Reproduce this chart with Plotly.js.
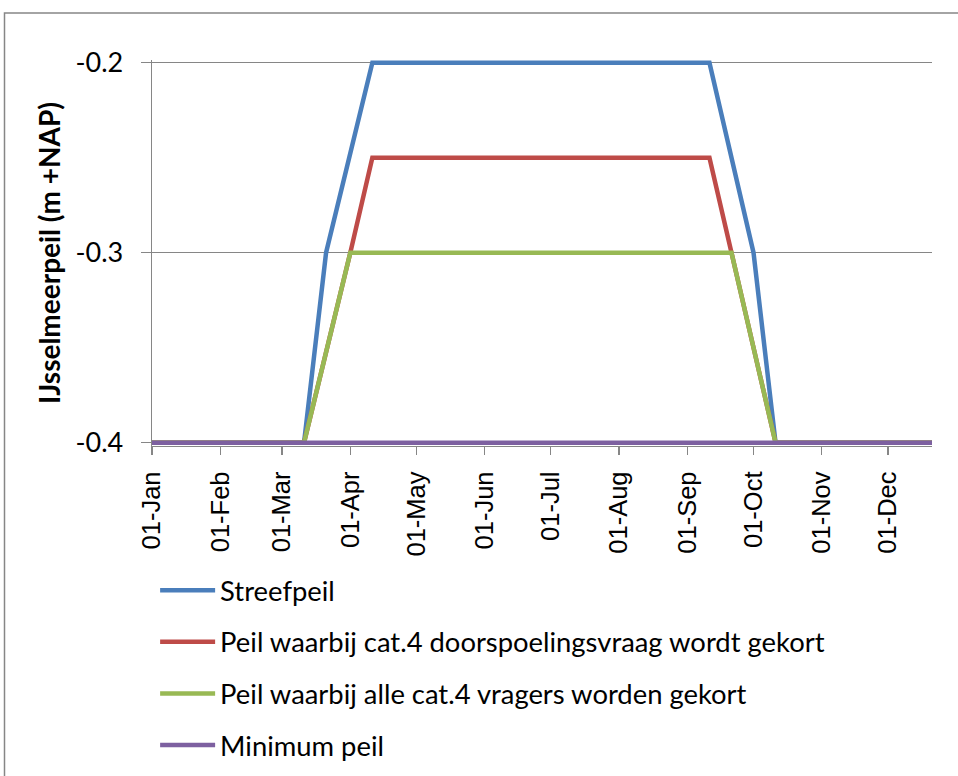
<!DOCTYPE html>
<html>
<head>
<meta charset="utf-8">
<script src="https://cdn.plot.ly/plotly-3.0.1.min.js"></script>
<style>
html,body{margin:0;padding:0;background:#fff;}
#chart{width:958px;height:776px;}
</style>
</head>
<body>
<div id="chart"></div>
<script>
// ---- data ----
var streefDates = ["2013-01-01","2013-03-11","2013-03-21","2013-04-11","2013-09-11","2013-10-01","2013-10-11","2013-12-21"];
var streefVals  = [-0.4, -0.4, -0.3, -0.2, -0.2, -0.3, -0.4, -0.4];

var doorspDates = ["2013-01-01","2013-03-11","2013-04-01","2013-04-11","2013-09-11","2013-09-21","2013-10-11","2013-12-21"];
var doorspVals  = [-0.4, -0.4, -0.3, -0.25, -0.25, -0.3, -0.4, -0.4];

var alleDates = ["2013-01-01","2013-03-11","2013-04-01","2013-09-21","2013-10-11","2013-12-21"];
var alleVals  = [-0.4, -0.4, -0.3, -0.3, -0.4, -0.4];

var minDates = ["2013-01-01","2013-12-21"];
var minVals  = [-0.4, -0.4];

var seriesNames = [
  "Streefpeil",
  "Peil waarbij cat.4 doorspoelingsvraag wordt gekort",
  "Peil waarbij alle cat.4 vragers worden gekort",
  "Minimum peil"
];

var monthTicks  = ["2013-01-01","2013-02-01","2013-03-01","2013-04-01","2013-05-01","2013-06-01","2013-07-01","2013-08-01","2013-09-01","2013-10-01","2013-11-01","2013-12-01"];
var monthLabels = ["01-Jan","01-Feb","01-Mar","01-Apr","01-May","01-Jun","01-Jul","01-Aug","01-Sep","01-Oct","01-Nov","01-Dec"];

var yTicks  = [-0.4, -0.3, -0.2];
var yLabels = ["-0.4", "-0.3", "-0.2"];

var yTitle = "IJsselmeerpeil (m +NAP)";

// ---- styling ----
var colors = ["#4A7EBB", "#BE4B48", "#98B954", "#7D60A0"];
var xs = [streefDates, doorspDates, alleDates, minDates];
var ys = [streefVals, doorspVals, alleVals, minVals];

var traces = xs.map(function(x, i){
  return {
    type: "scatter", mode: "lines",
    x: x, y: ys[i], name: seriesNames[i],
    legendgroup: "g" + i,
    line: {color: colors[i], width: 4.5},
    hoverinfo: "skip"
  };
});

var gray = "#868686";
var layout = {
  width: 958, height: 776,
  margin: {l: 152, r: 26, t: 60, b: 330, pad: 0, autoexpand: false},
  paper_bgcolor: "#fff", plot_bgcolor: "#fff",
  showlegend: true,
  xaxis: {
    type: "date",
    range: ["2013-01-01", "2013-12-21"],
    tickvals: monthTicks, ticktext: monthLabels,
    tickangle: -90,
    ticks: "outside", ticklen: 8, tickwidth: 1.3, tickcolor: gray,
    showline: true, linecolor: gray, linewidth: 1.3,
    showgrid: false, zeroline: false,
    tickfont: {family: "Liberation Sans, Arial, sans-serif", size: 25.5, color: "#000"},
    ticklabelstandoff: 6,
    automargin: false,
    fixedrange: true
  },
  yaxis: {
    range: [-0.40174, -0.19858],
    tickvals: yTicks, ticktext: yLabels,
    ticks: "outside", ticklen: 10, tickwidth: 1.3, tickcolor: gray,
    showline: true, linecolor: gray, linewidth: 1.3,
    showgrid: true, gridcolor: gray, gridwidth: 1.3,
    zeroline: false,
    tickfont: {family: "Lato, sans-serif", size: 27, color: "#000"},
    ticklabelstandoff: 12,
    title: {text: yTitle, font: {family: "Lato, sans-serif", size: 28, color: "#000", weight: "bold"}, standoff: 6},
    automargin: false,
    fixedrange: true
  },
  legend: {
    orientation: "v",
    x: 0.004, xanchor: "left",
    y: -0.3105, yanchor: "top",
    font: {family: "Lato, sans-serif", size: 27.4, color: "#000"},
    tracegroupgap: 13,
    itemwidth: 55,
    bgcolor: "rgba(0,0,0,0)",
    borderwidth: 0
  },
  shapes: [{
    type: "rect", xref: "paper", yref: "paper",
    x0: -0.1891, x1: 1.04, y0: -0.87, y1: 1.1218,
    line: {color: gray, width: 1.5}, fillcolor: "rgba(0,0,0,0)", layer: "below"
  }]
};

Plotly.newPlot("chart", traces, layout, {staticPlot: true, displayModeBar: false});
</script>
</body>
</html>
